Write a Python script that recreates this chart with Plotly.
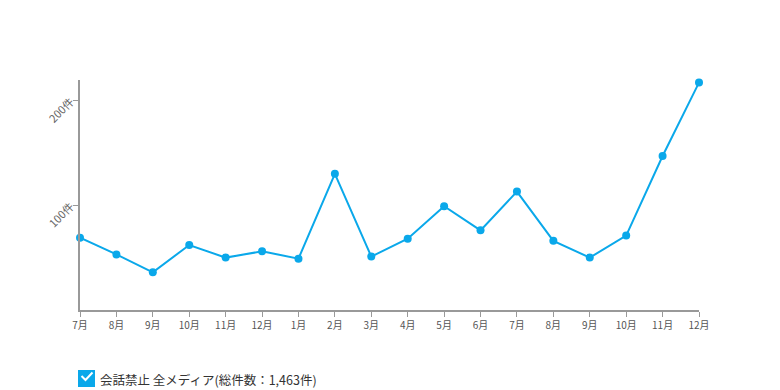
import plotly.graph_objects as go

months = ["7月", "8月", "9月", "10月", "11月", "12月", "1月", "2月", "3月",
          "4月", "5月", "6月", "7月", "8月", "9月", "10月", "11月", "12月"]
counts = [69, 53, 36, 62, 50, 56, 49, 130, 51, 68, 99, 76, 113, 66, 50, 71, 147, 217]
y_ticks = [100, 200]
y_ticklabels = ["100件", "200件"]
series_name = "会話禁止 全メディア(総件数：1,463件)"

color = "#0AA8EA"
font_family = "Noto Sans CJK JP, Noto Sans, sans-serif"
idx = list(range(len(months)))

fig = go.Figure()
fig.add_trace(go.Scatter(
    x=idx, y=counts, mode="lines+markers", name=series_name,
    line=dict(color=color, width=2),
    marker=dict(color=color, size=8),
    showlegend=False, cliponaxis=False,
))

OFF = 8  # browser body margin
W, H = 772, 382
L, T = 80 - OFF, 80 - OFF
R = W - (699 - OFF)
B = H - (310 - OFF)
pw, ph = W - L - R, H - T - B

def px_x(px):
    return (px - OFF - L) / pw

def px_y(py):
    return (H - B - (py - OFF)) / ph

fig.update_layout(
    width=W, height=H,
    margin=dict(l=L, r=R, t=T, b=B),
    paper_bgcolor="white", plot_bgcolor="white",
    font=dict(family=font_family, color="#555", size=10),
    xaxis=dict(
        range=[0, len(months) - 1], tickvals=idx, ticktext=months,
        showgrid=False, zeroline=False, showline=True, linecolor="#999", linewidth=2,
        ticks="outside", ticklen=5, tickcolor="#999", tickwidth=1,
        tickfont=dict(size=10, color="#555"), fixedrange=True,
    ),
    yaxis=dict(
        range=[0, 219.5], tickvals=y_ticks, ticktext=y_ticklabels,
        showgrid=False, zeroline=False, showline=True, linecolor="#999", linewidth=2,
        ticks="outside", ticklen=5, tickcolor="#999", tickwidth=1, tickangle=-45,
        tickfont=dict(size=11, color="#666"), fixedrange=True,
    ),
)

# legend-like checkbox
x0, x1 = px_x(78), px_x(95)
y0, y1 = px_y(387), px_y(370)
fig.add_shape(type="rect", xref="paper", yref="paper", x0=x0, x1=x1, y0=y0, y1=y1,
              fillcolor=color, line=dict(width=0))
p1 = (px_x(81.5), px_y(376))
p2 = (px_x(85.5), px_y(380))
p3 = (px_x(92.5), px_y(372.5))
fig.add_shape(type="path", xref="paper", yref="paper",
              path=f"M {p1[0]} {p1[1]} L {p2[0]} {p2[1]} L {p3[0]} {p3[1]}",
              line=dict(color="white", width=2))
fig.add_annotation(xref="paper", yref="paper", x=px_x(98), y=px_y(379),
                   xanchor="left", yanchor="middle", showarrow=False,
                   text=series_name, font=dict(size=12.5, color="#333", family=font_family))

fig.write_html("out.html")
